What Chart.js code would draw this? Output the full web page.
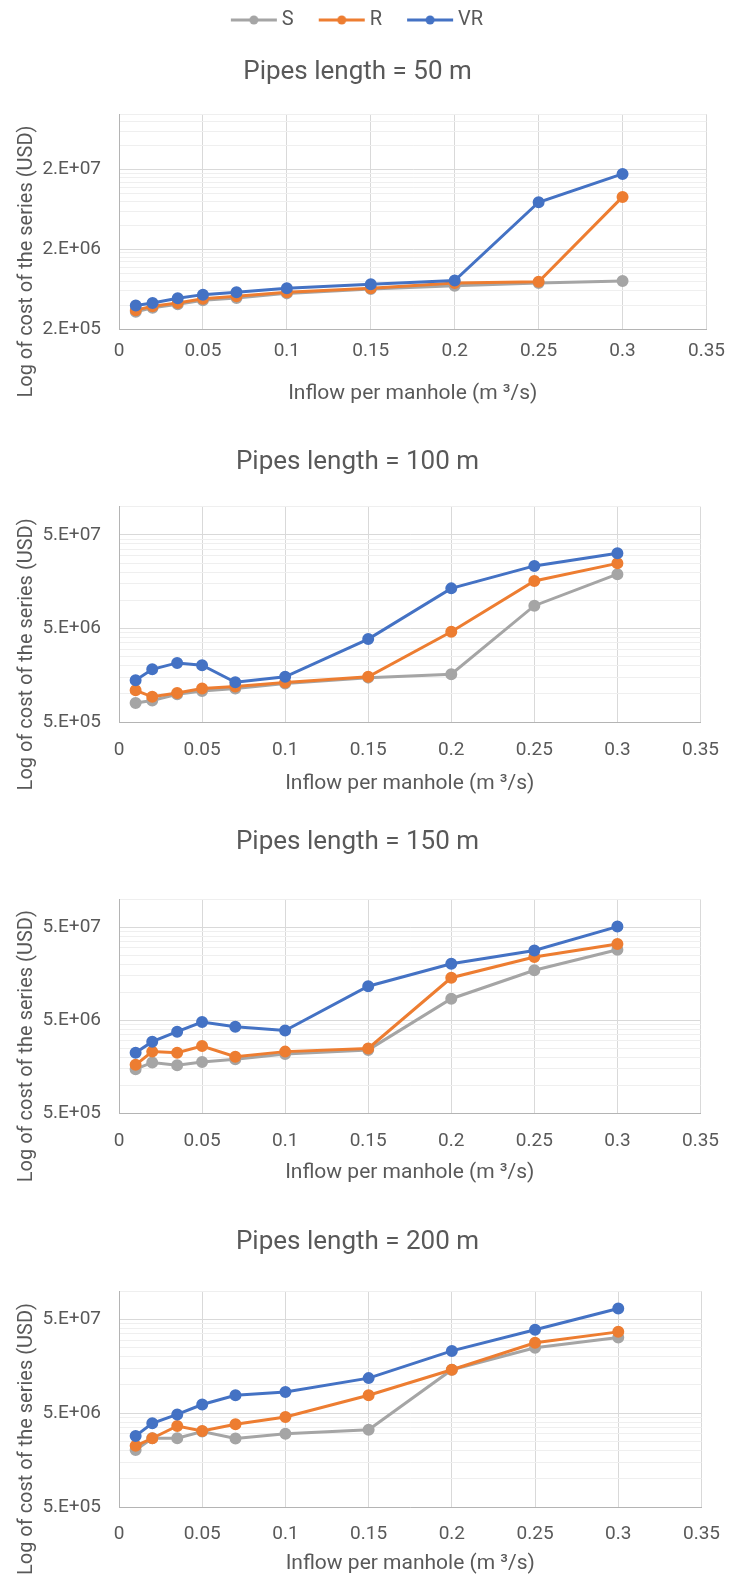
<!DOCTYPE html>
<html>
<head>
<meta charset="utf-8">
<script src="https://cdn.jsdelivr.net/npm/chart.js@4.4.1/dist/chart.umd.min.js"></script>
<style>
  html, body { margin: 0; padding: 0; background: #fff; }
  .panel { position: absolute; left: 0; width: 736px; }
</style>
</head>
<body>
<div class="panel" style="top:0px"><canvas id="c0" width="736" height="410"></canvas></div>
<div class="panel" style="top:420px"><canvas id="c1" width="736" height="380"></canvas></div>
<div class="panel" style="top:810px"><canvas id="c2" width="736" height="380"></canvas></div>
<div class="panel" style="top:1200px"><canvas id="c3" width="736" height="378"></canvas></div>
<script>
// ---- data ----
const SERIES = ['S', 'R', 'VR'];
const X_VALUES = [0.01, 0.02, 0.035, 0.05, 0.07, 0.1, 0.15, 0.2, 0.25, 0.3];
const X_TICKS = [0, 0.05, 0.1, 0.15, 0.2, 0.25, 0.3, 0.35];
const Y_MAX = 1e8;
const Y_TICKS_50 = [2e5, 2e6, 2e7];
const Y_TICKS_OTHER = [5e5, 5e6, 5e7];

// Pipes length = 50 m
const S_50  = [3.3e5, 3.7e5, 4.1e5, 4.6e5, 4.9e5, 5.6e5, 6.35e5, 7.0e5, 7.55e5, 8.0e5];
const R_50  = [3.45e5, 3.85e5, 4.25e5, 4.8e5, 5.15e5, 5.8e5, 6.5e5, 7.55e5, 7.85e5, 9.1e6];
const VR_50 = [3.95e5, 4.25e5, 4.85e5, 5.4e5, 5.8e5, 6.5e5, 7.3e5, 8.1e5, 7.8e6, 1.77e7];
// Pipes length = 100 m
const S_100  = [8.0e5, 8.5e5, 9.9e5, 1.07e6, 1.14e6, 1.29e6, 1.49e6, 1.62e6, 8.75e6, 1.9e7];
const R_100  = [1.09e6, 9.3e5, 1.02e6, 1.14e6, 1.2e6, 1.32e6, 1.52e6, 4.6e6, 1.61e7, 2.48e7];
const VR_100 = [1.4e6, 1.83e6, 2.14e6, 2.02e6, 1.33e6, 1.52e6, 3.85e6, 1.34e7, 2.33e7, 3.18e7];
// Pipes length = 150 m
const S_150  = [1.48e6, 1.75e6, 1.63e6, 1.77e6, 1.9e6, 2.16e6, 2.39e6, 8.5e6, 1.72e7, 2.86e7];
const R_150  = [1.65e6, 2.29e6, 2.23e6, 2.63e6, 2.02e6, 2.29e6, 2.48e6, 1.43e7, 2.39e7, 3.31e7];
const VR_150 = [2.23e6, 2.93e6, 3.75e6, 4.76e6, 4.24e6, 3.87e6, 1.16e7, 2.02e7, 2.81e7, 5.08e7];
// Pipes length = 200 m
const S_200  = [2.02e6, 2.7e6, 2.7e6, 3.18e6, 2.68e6, 3.02e6, 3.33e6, 1.45e7, 2.49e7, 3.2e7];
const R_200  = [2.24e6, 2.7e6, 3.65e6, 3.23e6, 3.8e6, 4.54e6, 7.75e6, 1.45e7, 2.81e7, 3.67e7];
const VR_200 = [2.86e6, 3.89e6, 4.84e6, 6.18e6, 7.75e6, 8.4e6, 1.18e7, 2.3e7, 3.86e7, 6.5e7];

const COLORS = ['#A5A5A5', '#ED7D31', '#4472C4'];
const TEXT = '#595959';
const FONT = 'Roboto';

// layout of each panel (canvas px)
const PANELS = [
    { id: 'c0', title: 'Pipes length = 50 m',  data: [S_50, R_50, VR_50],     yTicks: Y_TICKS_50,
      legend: true,  padTop: -16, titlePad: { top: 16.9, bottom: 25.9 }, xHeight: 81, tickPad: 11, xTitlePad: 4 },
    { id: 'c1', title: 'Pipes length = 100 m', data: [S_100, R_100, VR_100],  yTicks: Y_TICKS_OTHER,
      legend: false, padTop: 0,   titlePad: { top: 26.9, bottom: 28.6 }, xHeight: 78, tickPad: 17, xTitlePad: 4 },
    { id: 'c2', title: 'Pipes length = 150 m', data: [S_150, R_150, VR_150],  yTicks: Y_TICKS_OTHER,
      legend: false, padTop: 0,   titlePad: { top: 16.9, bottom: 41.2 }, xHeight: 77, tickPad: 17, xTitlePad: 5 },
    { id: 'c3', title: 'Pipes length = 200 m', data: [S_200, R_200, VR_200],  yTicks: Y_TICKS_OTHER,
      legend: false, padTop: 0,   titlePad: { top: 26.9, bottom: 32.9 }, xHeight: 71, tickPad: 16, xTitlePad: 2 },
];

// legend icon: line with a marker, like the spreadsheet legend.
// wider than the legend box so the line sits close to its label
function legendIcon(color) {
    const c = document.createElement('canvas');
    c.width = 60; c.height = 12;
    const g = c.getContext('2d');
    g.strokeStyle = color; g.lineWidth = 3;
    g.beginPath(); g.moveTo(9, 6); g.lineTo(55, 6); g.stroke();
    g.fillStyle = color;
    g.beginPath(); g.arc(32, 6, 4.5, 0, Math.PI * 2); g.fill();
    return c;
}
const ICONS = COLORS.map(legendIcon);

function sciLabel(v) {
    const e = Math.floor(Math.log10(v) + 1e-9);
    const m = Math.round(v / Math.pow(10, e));
    return m + '.E+' + String(e).padStart(2, '0');
}

const yTitlePlugin = {
    id: 'yTitle',
    afterDraw(chart, args, opts) {
        const { ctx, chartArea } = chart;
        ctx.save();
        ctx.translate(opts.x, (chartArea.top + chartArea.bottom) / 2 + opts.shift);
        ctx.rotate(-Math.PI / 2);
        ctx.font = '20px ' + FONT;
        ctx.fillStyle = TEXT;
        ctx.textAlign = 'center';
        ctx.textBaseline = 'middle';
        ctx.fillText(opts.text, 0, 0);
        ctx.restore();
    }
};

function buildPanel(p) {
    const majors = new Set(p.yTicks);
    const datasets = SERIES.map((name, i) => ({
        label: name,
        data: X_VALUES.map((x, j) => ({ x, y: p.data[i][j] })),
        borderColor: COLORS[i],
        backgroundColor: COLORS[i],
        pointBackgroundColor: COLORS[i],
        pointBorderColor: COLORS[i],
        borderWidth: 3,
        pointRadius: 4.5,
        pointHoverRadius: 4.5,
        tension: 0,
        order: 3 - i,
    }));

    return new Chart(document.getElementById(p.id), {
        type: 'line',
        data: { datasets },
        plugins: [yTitlePlugin],
        options: {
            responsive: false,
            animation: false,
            devicePixelRatio: 1,
            layout: { padding: { top: p.padTop, right: 21, left: 0, bottom: 0 } },
            plugins: {
                tooltip: { enabled: false },
                yTitle: { text: 'Log of cost of the series (USD)', x: 27, shift: 40 },
                legend: {
                    display: p.legend,
                    position: 'top',
                    weight: 3000,
                    labels: {
                        usePointStyle: true,
                        pointStyleWidth: 40,
                        padding: 26,
                        color: TEXT,
                        font: { family: FONT, size: 20 },
                        sort: (a, b) => a.datasetIndex - b.datasetIndex,
                        generateLabels: chart => Chart.defaults.plugins.legend.labels.generateLabels(chart)
                            .map(it => Object.assign(it, { pointStyle: ICONS[it.datasetIndex] })),
                    },
                },
                title: {
                    display: true,
                    text: p.title,
                    color: TEXT,
                    weight: 2000,
                    font: { family: FONT, size: 26, weight: 'normal', lineHeight: 1.2 },
                    padding: p.titlePad,
                },
            },
            scales: {
                x: {
                    type: 'linear',
                    min: 0, max: 0.35,
                    afterBuildTicks: s => { s.ticks = X_TICKS.map(v => ({ value: v })); },
                    afterFit: s => { s.height = p.xHeight; },
                    ticks: {
                        autoSkip: false, maxRotation: 0,
                        padding: p.tickPad,
                        color: TEXT,
                        font: { family: FONT, size: 19 },
                        callback: v => String(v),
                    },
                    grid: { color: '#d9d9d9', drawTicks: false },
                    border: { display: true, color: '#b4b4b4' },
                    title: {
                        display: true,
                        text: 'Inflow per manhole (m \u00b3/s)',
                        color: TEXT,
                        font: { family: FONT, size: 21, lineHeight: 1.2 },
                        padding: { top: 0, bottom: p.xTitlePad },
                    },
                },
                y: {
                    type: 'logarithmic',
                    min: p.yTicks[0], max: Y_MAX,
                    afterBuildTicks: s => {
                        const t = [];
                        p.yTicks.forEach(m => {
                            for (let k = 1; k <= 9; k++) {
                                if (m * k <= Y_MAX) t.push({ value: m * k });
                            }
                        });
                        if (t[t.length - 1].value < Y_MAX) t.push({ value: Y_MAX });
                        s.ticks = t;
                    },
                    afterFit: s => { s.width = 119; },
                    ticks: {
                        autoSkip: false,
                        padding: 18,
                        color: TEXT,
                        font: { family: FONT, size: 19 },
                        callback: v => majors.has(v) ? sciLabel(v) : '',
                    },
                    grid: {
                        drawTicks: false,
                        color: c => (c.tick && majors.has(c.tick.value)) ? '#d9d9d9' : '#efefef',
                    },
                    border: { display: true, color: '#b4b4b4' },
                },
            },
        },
    });
}

PANELS.forEach(buildPanel);
</script>
</body>
</html>
